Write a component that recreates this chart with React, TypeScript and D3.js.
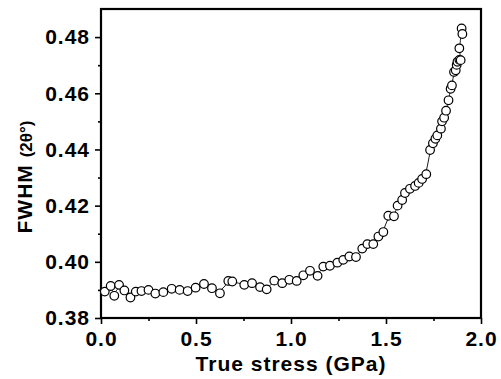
import React, { useRef, useEffect } from "react";
import * as d3 from "d3";

// True stress (GPa) and FWHM (2θ°)
const stress = [
  0.02, 0.051, 0.07, 0.095, 0.123, 0.155, 0.183, 0.213, 0.25, 0.286,
  0.328, 0.372, 0.414, 0.456, 0.498, 0.542, 0.584, 0.626, 0.67, 0.691,
  0.754, 0.795, 0.837, 0.872, 0.912, 0.954, 0.991, 1.03, 1.065, 1.1,
  1.14, 1.17, 1.205, 1.244, 1.275, 1.307, 1.342, 1.375, 1.402, 1.433,
  1.46, 1.486, 1.512, 1.542, 1.561, 1.585, 1.6, 1.626, 1.653, 1.672,
  1.69, 1.712, 1.732, 1.747, 1.76, 1.77, 1.789, 1.795, 1.806, 1.816,
  1.829, 1.84, 1.847, 1.858, 1.867, 1.872, 1.876, 1.886, 1.893, 1.886,
  1.898, 1.902,
];
const fwhm = [
  0.3894, 0.3914, 0.3879, 0.3918, 0.3898, 0.3873, 0.3894, 0.3896, 0.39, 0.3887,
  0.3892, 0.3904, 0.39, 0.3896, 0.3908, 0.3921, 0.3906, 0.3888, 0.3932, 0.393,
  0.3918, 0.3924, 0.391, 0.3902, 0.3933, 0.3924, 0.3936, 0.3932, 0.3952, 0.3968,
  0.395, 0.3983, 0.3986, 0.3997, 0.4007, 0.4019, 0.4017, 0.4047, 0.4063, 0.4063,
  0.409, 0.4106, 0.4164, 0.4162, 0.42, 0.422, 0.4245, 0.426, 0.427, 0.4281,
  0.4295, 0.4312, 0.4398, 0.4422, 0.4438, 0.445, 0.4474, 0.45, 0.4513, 0.4538,
  0.4575, 0.4616, 0.4628, 0.4676, 0.4682, 0.4701, 0.4712, 0.4719, 0.4718, 0.476,
  0.4831, 0.4811,
];
const xTicks = [0, 0.5, 1.0, 1.5, 2.0];
const yTicks = [0.38, 0.4, 0.42, 0.44, 0.46, 0.48];

const W = 501;
const H = 379;
const FONT = "'Liberation Sans', Arial, sans-serif";

export default function App() {
  const svgRef = useRef<SVGSVGElement>(null);

  useEffect(() => {
    const svg = d3.select(svgRef.current);
    svg.selectAll("*").remove();

    const x = d3.scaleLinear().domain([0, 2]).range([101, 481]);
    const y = d3.scaleLinear().domain([0.38, 0.49]).range([318, 9]);

    const data = stress.map((s, i) => ({ s, v: fwhm[i] }));

    // minor ticks
    const xMinor = d3.range(0.25, 2, 0.5);
    const yMinor = d3.range(0.39, 0.49, 0.02);

    const xAxis = svg
      .append("g")
      .attr("transform", `translate(0,${y(0.38)})`)
      .call(
        d3
          .axisBottom(x)
          .tickValues(xTicks)
          .tickFormat(d3.format(".1f"))
          .tickSize(6)
          .tickSizeOuter(0)
          .tickPadding(7)
      );
    svg
      .append("g")
      .attr("transform", `translate(0,${y(0.38)})`)
      .call(d3.axisBottom(x).tickValues(xMinor).tickSize(3).tickFormat(() => "").tickSizeOuter(0))
      .call((g) => g.select(".domain").remove());

    const yAxis = svg
      .append("g")
      .attr("transform", `translate(${x(0)},0)`)
      .call(
        d3
          .axisLeft(y)
          .tickValues(yTicks)
          .tickFormat(d3.format(".2f"))
          .tickSize(6)
          .tickSizeOuter(0)
          .tickPadding(5)
      );
    svg
      .append("g")
      .attr("transform", `translate(${x(0)},0)`)
      .call(d3.axisLeft(y).tickValues(yMinor).tickSize(3).tickFormat(() => "").tickSizeOuter(0))
      .call((g) => g.select(".domain").remove());

    svg.selectAll(".tick line").attr("stroke", "#000").attr("stroke-width", 1.6);
    [xAxis, yAxis].forEach((g) => {
      g.select(".domain").remove();
      g.selectAll("text")
        .attr("font-family", FONT)
        .attr("font-weight", "bold")
        .attr("font-size", 21)
        .attr("letter-spacing", 1)
        .attr("fill", "#000");
    });

    // frame
    svg
      .append("rect")
      .attr("x", x(0))
      .attr("y", y(0.49))
      .attr("width", x(2) - x(0))
      .attr("height", y(0.38) - y(0.49))
      .attr("fill", "none")
      .attr("stroke", "#000")
      .attr("stroke-width", 2.2);

    const line = d3
      .line<{ s: number; v: number }>()
      .x((d) => x(d.s))
      .y((d) => y(d.v))
      .curve(d3.curveBasis);

    svg
      .append("path")
      .datum(data)
      .attr("d", line)
      .attr("fill", "none")
      .attr("stroke", "#000")
      .attr("stroke-width", 0.9);

    svg
      .append("g")
      .selectAll("circle")
      .data(data)
      .enter()
      .append("circle")
      .attr("cx", (d) => x(d.s))
      .attr("cy", (d) => y(d.v))
      .attr("r", 4.3)
      .attr("fill", "#fff")
      .attr("stroke", "#000")
      .attr("stroke-width", 1.2);

    // axis titles
    svg
      .append("text")
      .attr("x", (x(0) + x(2)) / 2)
      .attr("y", 371)
      .attr("text-anchor", "middle")
      .attr("font-family", FONT)
      .attr("font-weight", "bold")
      .attr("font-size", 21)
      .attr("letter-spacing", 1)
      .text("True stress (GPa)");

    const yt = svg
      .append("text")
      .attr("transform", `translate(32,177) rotate(-90)`)
      .attr("text-anchor", "middle")
      .attr("font-family", FONT)
      .attr("font-size", 21);
    yt.append("tspan").attr("font-weight", "bold").attr("letter-spacing", 1).text("FWHM ");
    yt.append("tspan").attr("font-size", 17).attr("font-weight", "bold").text("(2θ°)");
  }, []);

  return (
    <svg
      ref={svgRef}
      width={W}
      height={H}
      style={{ position: "absolute", left: 0, top: 0, background: "#fff" }}
    />
  );
}
